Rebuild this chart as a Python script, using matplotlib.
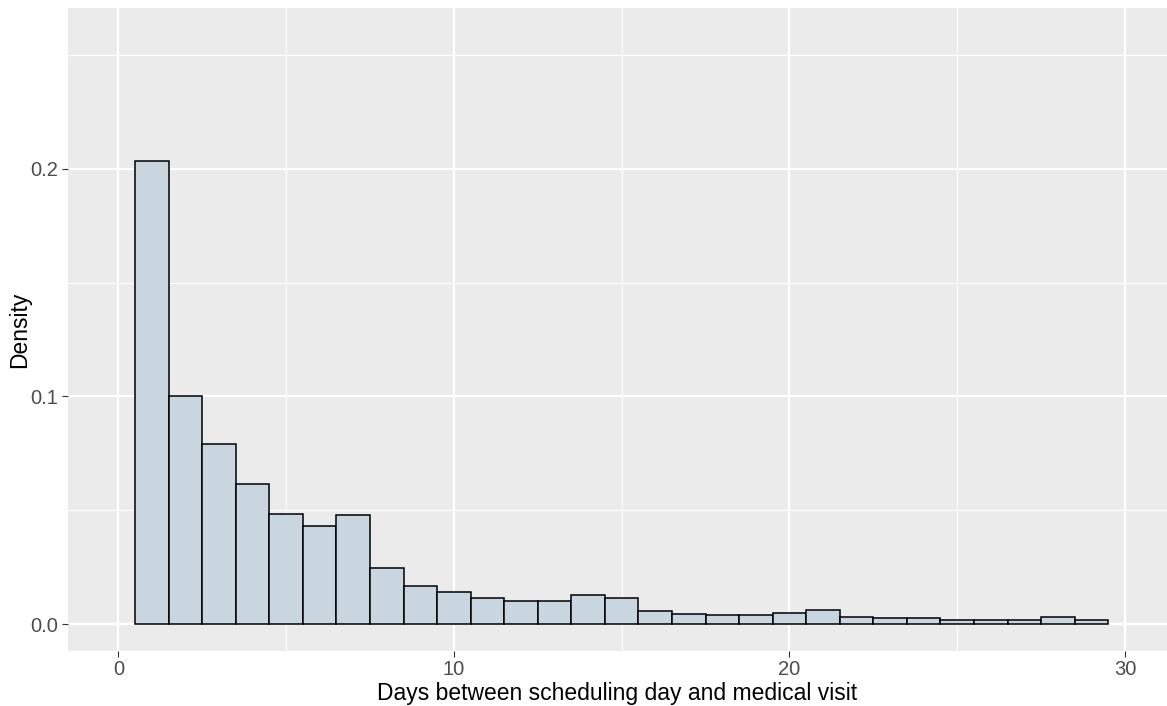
import numpy as np
import matplotlib.pyplot as plt

plt.rcParams['font.family'] = ['Liberation Sans', 'DejaVu Sans']

# histogram bins (width 1 day) and density per bin
bin_left = np.arange(0.5, 29.5, 1.0)
density = [0.2032, 0.1004, 0.0790, 0.0614, 0.0483, 0.0433, 0.0479, 0.0248,
           0.0167, 0.0141, 0.0115, 0.0104, 0.0104, 0.0130, 0.0115, 0.0059,
           0.0047, 0.0040, 0.0040, 0.0048, 0.0063, 0.0032, 0.0026, 0.0026,
           0.0020, 0.0020, 0.0020, 0.0032, 0.0020]

x_ticks = [0, 10, 20, 30]
y_ticks = [0.0, 0.1, 0.2]
y_tick_labels = ["0.0", "0.1", "0.2"]

fig = plt.figure(figsize=(11.67, 7.06), dpi=100)
ax = fig.add_axes([0.058, 0.0783, 0.942, 0.9099])
ax.set_facecolor("#EBEBEB")

# ggplot-ish grid
for v in [5, 15, 25]:
    ax.axvline(v, color="white", lw=0.8, zorder=0)
for v in [0.05, 0.15, 0.25]:
    ax.axhline(v, color="white", lw=0.8, zorder=0)
for v in [0, 10, 20, 30]:
    ax.axvline(v, color="white", lw=1.6, zorder=0)
for v in y_ticks:
    ax.axhline(v, color="white", lw=1.6, zorder=0)

ax.bar(bin_left, density, width=1.0, align="edge", color="#C9D6E0",
       edgecolor="black", linewidth=1.1, zorder=2)

ax.set_xlim(-1.51, 31.25)
ax.set_ylim(-0.0116, 0.2704)
ax.set_xticks(x_ticks)
ax.set_yticks(y_ticks)
ax.set_yticklabels(y_tick_labels)
ax.tick_params(axis="both", colors="#333333", length=4, width=0.8,
               labelsize=14.5, labelcolor="#4D4D4D", pad=3)

for s in ax.spines.values():
    s.set_visible(False)

ax.set_xlabel("Days between scheduling day and medical visit", fontsize=16.5,
              color="black", labelpad=2)
ax.set_ylabel("Density", fontsize=16.5, color="black", labelpad=-1)

fig.savefig("out.png", dpi=100)
